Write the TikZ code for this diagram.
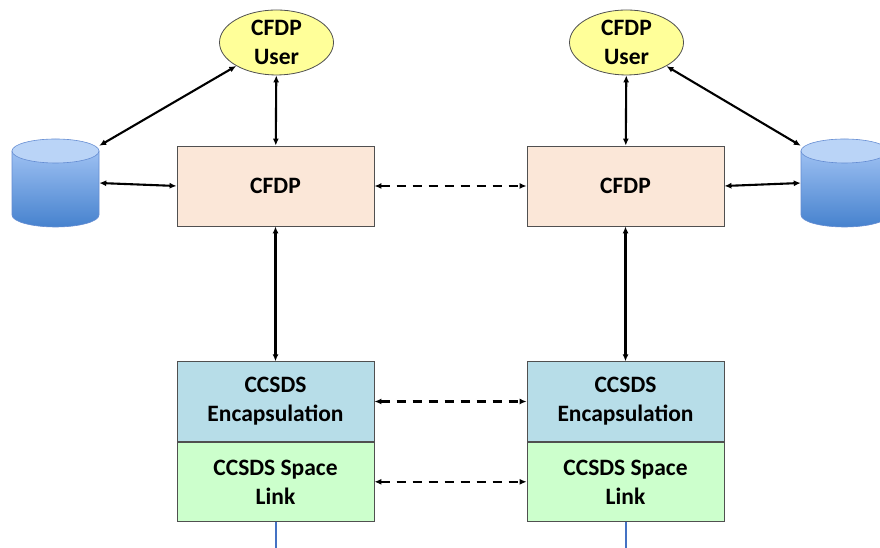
\documentclass[tikz,border=0pt]{standalone}
\usepackage{fontspec}
\setmainfont{Carlito}
\usetikzlibrary{arrows.meta,positioning,shapes.geometric}
\definecolor{userfill}{RGB}{255,255,153}
\definecolor{cfdpfill}{RGB}{251,231,216}
\definecolor{encfill}{RGB}{183,221,232}
\definecolor{linkfill}{RGB}{204,255,204}
\definecolor{cyltop}{RGB}{186,212,247}
\definecolor{cylupper}{RGB}{157,192,242}
\definecolor{cyllower}{RGB}{70,130,206}
\definecolor{cylline}{RGB}{100,140,210}
\definecolor{wire}{RGB}{68,114,196}
\definecolor{boxline}{RGB}{80,80,80}

\begin{document}
\begin{tikzpicture}[x=1pt, y=1pt, >={Latex[length=7pt,width=6pt]},
    layer/.style={draw=boxline, line width=0.8pt, minimum width=197pt, minimum height=79.5pt,
      inner sep=0pt, align=center, font=\fontsize{23.5}{29}\selectfont\bfseries},
    user/.style={ellipse, draw=boxline, line width=0.8pt, fill=userfill, minimum width=114pt,
      minimum height=65pt, inner sep=0pt, align=center, font=\fontsize{23.5}{29}\selectfont\bfseries},
    link/.style={<->, line width=2.1pt},
    peer/.style={<->, line width=2.1pt, dash pattern=on 9pt off 7pt}]
    \useasboundingbox (0,0) rectangle (880,548);

    % Stacks
    \foreach \s/\x in {L/275.5, R/625.5} {
        \node[user] (user\s) at (\x+1,505.5) {CFDP\\User};
        \node[layer, fill=cfdpfill, minimum height=80pt] (cfdp\s) at (\x,362) {CFDP};
        \node[layer, fill=encfill] (enc\s) at (\x,146.5) {CCSDS\\Encapsulation};
        \node[layer, fill=linkfill, below=0pt of enc\s] (link\s) {CCSDS Space\\Link};
        \coordinate (ground\s) at (\x+0.5,0);
        \draw[wire, line width=2.5pt] (link\s.south -| ground\s) -- (ground\s);
        \draw[link] (user\s) -- (cfdp\s);
        \draw[link] (cfdp\s) -- (enc\s);
    }

    % Data stores
    \foreach \s/\cx in {L/55.5, R/844.5} {
        \shade[top color=cylupper, bottom color=cyllower, draw=cylline, line width=0.6pt]
            (\cx-43.5,397) -- (\cx-43.5,333) arc[start angle=180, end angle=360, x radius=43.5, y radius=12]
            -- (\cx+43.5,397) -- cycle;
        \filldraw[fill=cyltop, draw=cylline, line width=0.6pt] (\cx,397) ellipse[x radius=43.5, y radius=12];
        \node[minimum width=87pt, minimum height=88pt, inner sep=0pt] (store\s) at (\cx,365) {};
    }

    \draw[link] ([yshift=-7pt]storeL.north east) -- (userL);
    \draw[link] (storeL.east) -- (cfdpL.west);
    \draw[link] ([yshift=-7pt]storeR.north west) -- (userR);
    \draw[link] (cfdpR.east) -- (storeR.west);

    % Peer exchanges
    \draw[peer] (cfdpL) -- (cfdpR);
    \draw[peer] (encL) -- (encR);
    \draw[peer] (linkL) -- (linkR);
\end{tikzpicture}
\end{document}
